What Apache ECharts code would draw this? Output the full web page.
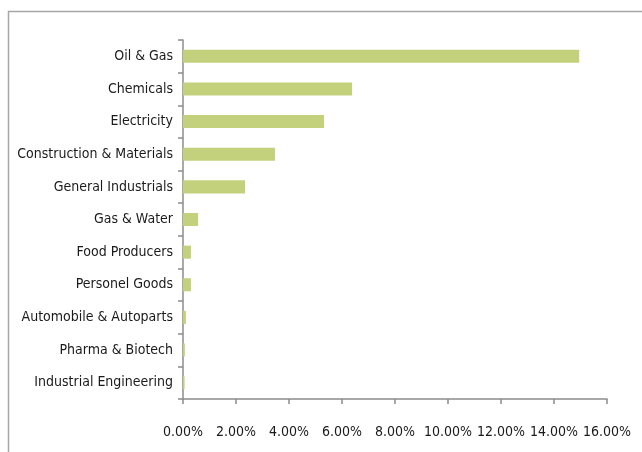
<!DOCTYPE html>
<html><head><meta charset="utf-8">
<script src="https://cdn.jsdelivr.net/npm/echarts@6/dist/echarts.min.js"></script>
<style>html,body{margin:0;padding:0;background:#fff;}#c{width:642px;height:452px;}</style>
</head><body><div id="c"></div>
<script>
var categories = ["Oil & Gas","Chemicals","Electricity","Construction & Materials","General Industrials","Gas & Water","Food Producers","Personel Goods","Automobile & Autoparts","Pharma & Biotech","Industrial Engineering"];
var values = [14.95, 6.38, 5.32, 3.47, 2.34, 0.57, 0.30, 0.30, 0.11, 0.07, 0.06];
var tickLabels = ["0.00%","2.00%","4.00%","6.00%","8.00%","10.00%","12.00%","14.00%","16.00%"];

var font = '"DejaVu Sans Condensed", Lato, sans-serif';
var chart = echarts.init(document.getElementById('c'), null, {renderer:'canvas'});
chart.setOption({
  animation:false,
  graphic:[{type:'rect', shape:{x:8.5,y:11.5,width:700,height:500}, style:{fill:'none',stroke:'#a6a6a6',lineWidth:1.5}, silent:true}],
  grid:{left:183, right:35, top:40, bottom:53},
  xAxis:{type:'value', min:0, max:16, interval:2,
    axisLine:{show:true, lineStyle:{color:'#8c8c8c', width:1.5}},
    axisTick:{show:true, length:5, lineStyle:{color:'#8c8c8c', width:1.5}},
    splitLine:{show:false},
    axisLabel:{margin:26, color:'#1a1a1a', fontFamily:font, fontSize:14,
      formatter:function(v){ return tickLabels[Math.round(v/2)]; }}
  },
  yAxis:{type:'category', data:categories.slice().reverse(),
    axisLine:{show:true, lineStyle:{color:'#8c8c8c', width:1.5}},
    axisTick:{show:true, length:5, lineStyle:{color:'#8c8c8c', width:1.5}},
    axisLabel:{margin:10, color:'#1a1a1a', fontFamily:font, fontSize:14, padding:[3,0,0,0]}
  },
  series:[{type:'bar', data:values.slice().reverse(), barCategoryGap:'60%',
    itemStyle:{color:'#c3d17c'}}]
});
</script></body></html>
